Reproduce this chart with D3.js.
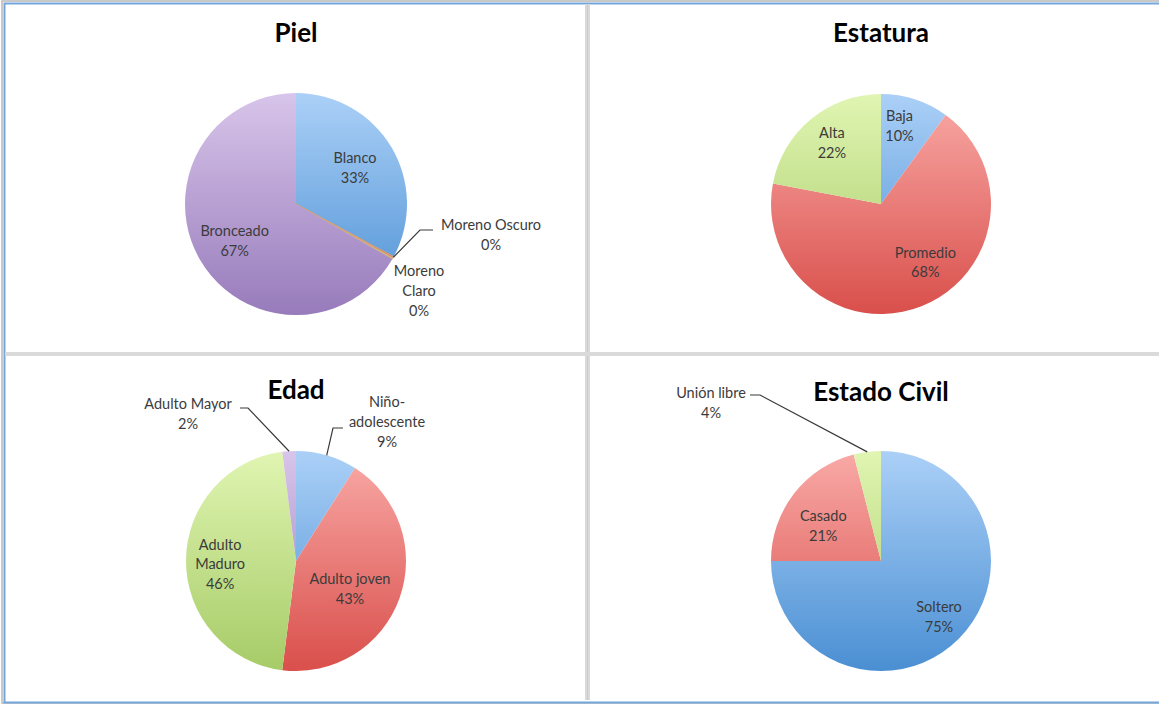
<!DOCTYPE html>
<html><head><meta charset="utf-8">
<script src="https://cdn.jsdelivr.net/npm/d3@7"></script>
<style>
html,body{margin:0;padding:0;background:#fff;}
svg{display:block;}
</style></head>
<body>
<script>
// ---------- data ----------
const pielCategories = ["Blanco", "Moreno Oscuro", "Moreno Claro", "Bronceado"];
const pielValues = [33, 0.2, 0.2, 67];
const pielLabels = ["33%", "0%", "0%", "67%"];

const estaturaCategories = ["Baja", "Promedio", "Alta"];
const estaturaValues = [10, 68, 22];
const estaturaLabels = ["10%", "68%", "22%"];

const edadCategories = ["Niño-adolescente", "Adulto joven", "Adulto Maduro", "Adulto Mayor"];
const edadValues = [9, 43, 46, 2];
const edadLabels = ["9%", "43%", "46%", "2%"];

const civilCategories = ["Soltero", "Casado", "Unión libre"];
const civilValues = [75, 21, 4];
const civilLabels = ["75%", "21%", "4%"];

const titles = ["Piel", "Estatura", "Edad", "Estado Civil"];

// ---------- style / layout ----------
const W = 1159, H = 704;
const palette = {
  blue:   ["#abd0f7", "#4a8fd3"],
  red:    ["#f9aaa7", "#d94f4b"],
  green:  ["#e0f5b2", "#a6cb67"],
  purple: ["#d8c5ea", "#977bbb"]
};

const charts = [
  { title: titles[0], cats: pielCategories, vals: pielValues, pct: pielLabels,
    colors: ["blue", "red", "green", "purple"], cx: 296, cy: 204, r: 111, ty: 42,
    lab: [
      { k: 0.64, dx: -2, lines: ["Blanco"] },
      { out: true, tx: 195, ty: [21, 41], leader: [[124, 26], [137, 26]], lines: ["Moreno Oscuro"] },
      { out: true, tx: 123, ty: [67, 87, 107], lines: ["Moreno", "Claro"] },
      { k: 0.66, dx: 2, lines: ["Bronceado"] }
    ] },
  { title: titles[1], cats: estaturaCategories, vals: estaturaValues, pct: estaturaLabels,
    colors: ["blue", "red", "green"], cx: 881, cy: 204, r: 110, ty: 42,
    lab: [
      { k: 0.75, dx: -7, lines: ["Baja"] },
      { k: 0.6, dx: 20, dy: -3, lines: ["Promedio"] },
      { k: 0.7, dy: -2, lines: ["Alta"] }
    ] },
  { title: titles[2], cats: edadCategories, vals: edadValues, pct: edadLabels,
    colors: ["blue", "red", "green", "purple"], cx: 296, cy: 561, r: 110, ty: 399,
    lab: [
      { out: true, tx: 91, ty: [-159, -139, -119], leader: [[37, -133], [47, -133]], lines: ["Niño-", "adolescente"] },
      { k: 0.56, dx: -4, dy: 7, lines: ["Adulto joven"] },
      { k: 0.69, dy: 3, lines: ["Adulto", "Maduro"] },
      { out: true, tx: -108, ty: [-157, -137], leader: [[-48, -153], [-56, -153]], lines: ["Adulto Mayor"] }
    ] },
  { title: titles[3], cats: civilCategories, vals: civilValues, pct: civilLabels,
    colors: ["blue", "red", "green"], cx: 881, cy: 561, r: 110, ty: 401,
    lab: [
      { k: 0.72, dx: 2, lines: ["Soltero"] },
      { k: 0.63, dx: -3, dy: 7, lines: ["Casado"] },
      { out: true, tx: -170, ty: [-168, -148], leader: [[-121, -166], [-131, -166]], lines: ["Unión libre"] }
    ] }
];

const FONT = "Lato, 'Open Sans', sans-serif";
const svg = d3.select("body").append("svg").attr("width", W).attr("height", H);
const defs = svg.append("defs");

// frame
svg.append("rect").attr("x", 2).attr("y", 1).attr("width", W).attr("height", H - 2)
  .attr("fill", "none").attr("stroke", "#b8b8b8").attr("stroke-width", 1.5);
svg.append("rect").attr("x", 4.5).attr("y", 3.5).attr("width", W).attr("height", H - 5)
  .attr("fill", "none").attr("stroke", "#74a5db").attr("stroke-width", 2);
// dividers
svg.append("rect").attr("x", 585).attr("y", 4).attr("width", 5).attr("height", H - 8).attr("fill", "#dadada");
svg.append("line").attr("x1", 587.5).attr("x2", 587.5).attr("y1", 4).attr("y2", H - 4).attr("stroke", "#cacaca").attr("stroke-width", 1);
svg.append("rect").attr("x", 5).attr("y", 352).attr("width", W).attr("height", 4).attr("fill", "#dadada");

const pie = d3.pie().sort(null).value(d => d).startAngle(0).endAngle(2 * Math.PI);

charts.forEach((c, ci) => {
  c.colors.forEach(col => {
    const id = `g${ci}-${col}`;
    const lg = defs.append("linearGradient").attr("id", id)
      .attr("gradientUnits", "userSpaceOnUse")
      .attr("x1", 0).attr("x2", 0).attr("y1", -c.r).attr("y2", c.r);
    lg.append("stop").attr("offset", "0%").attr("stop-color", palette[col][0]);
    lg.append("stop").attr("offset", "100%").attr("stop-color", palette[col][1]);
  });
  const arcs = pie(c.vals);
  const arc = d3.arc().innerRadius(0).outerRadius(c.r);
  const g = svg.append("g").attr("transform", `translate(${c.cx},${c.cy})`);
  g.selectAll("path")
    .data(arcs).join("path")
    .attr("d", arc)
    .attr("fill", (d, i) => `url(#g${ci}-${c.colors[i]})`)
    .attr("stroke", (d, i) => (c.vals[i] < 1 ? "#d9a070" : "none"))
    .attr("stroke-width", 0.8);

  svg.append("text").attr("x", c.cx).attr("y", c.ty).attr("text-anchor", "middle")
    .attr("font-family", FONT).attr("font-weight", "bold").attr("font-size", 26)
    .attr("fill", "#000").text(c.title);

  arcs.forEach((d, i) => {
    const L = c.lab[i];
    const lines = L.lines.concat([c.pct[i]]);
    const mid = (d.startAngle + d.endAngle) / 2;
    let x, ys;
    if (!L.out) {
      const rr = c.r * L.k;
      x = Math.sin(mid) * rr + (L.dx || 0);
      const y0 = -Math.cos(mid) * rr + (L.dy || 0);
      const n = lines.length;
      ys = lines.map((_, j) => y0 + (j - (n - 1) / 2) * 19.5);
    } else {
      x = L.tx; ys = L.ty;
      if (L.leader) {
        const sx = Math.sin(mid) * c.r, sy = -Math.cos(mid) * c.r;
        const pts = [[sx, sy]].concat(L.leader);
        g.append("path").attr("d", d3.line()(pts)).attr("fill", "none")
          .attr("stroke", "#3a3a3a").attr("stroke-width", 1.2);
      }
    }
    lines.forEach((t, j) => {
      g.append("text").attr("x", x).attr("y", ys[j]).attr("dy", "0.36em")
        .attr("text-anchor", "middle").attr("font-family", FONT).attr("font-size", 14.5)
        .attr("fill", "#3b3b3b").text(t);
    });
  });
});
</script>
</body></html>
